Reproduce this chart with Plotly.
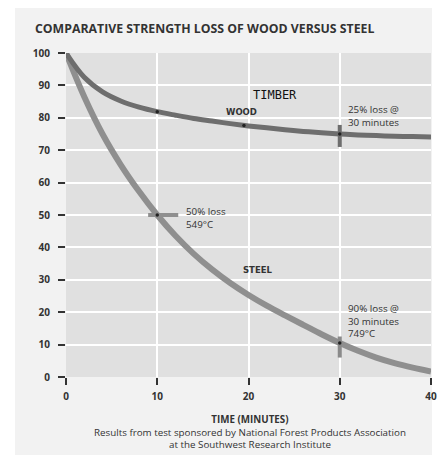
import plotly.graph_objects as go

time_min = [0, 2, 4, 6, 8, 10, 12, 14, 16, 18, 20, 22, 24, 26, 28, 30, 32, 34, 36, 38, 40]
wood_strength = [100, 92.5, 88, 85.2, 83.3, 81.9, 80.8, 79.8, 79, 78.2, 77.5, 76.9, 76.3, 75.8, 75.4, 75, 74.7, 74.5, 74.3, 74.2, 74.1]
steel_strength = [100, 86.5, 75, 65.5, 57.3, 50, 43.6, 38, 33.2, 29, 25.3, 22, 19, 16.1, 13.2, 10.5, 8.1, 6, 4.3, 2.9, 1.7]

wood_dots_t = [10, 19.5, 30]
wood_dots_v = [81.9, 77.6, 75]
steel_dots_t = [10, 30]
steel_dots_v = [50, 10.5]

x_ticks = [0, 10, 20, 30, 40]
y_ticks = [0, 10, 20, 30, 40, 50, 60, 70, 80, 90, 100]

fig = go.Figure()

fig.add_trace(go.Scatter(x=time_min, y=steel_strength, mode="lines", line=dict(color="#8f8f8f", width=6, shape="spline"), hoverinfo="skip"))
fig.add_trace(go.Scatter(x=time_min, y=wood_strength, mode="lines", line=dict(color="#6e6e6e", width=5, shape="spline"), hoverinfo="skip"))

# marker bars
fig.add_trace(go.Scatter(x=[9, 12.3], y=[50, 50], mode="lines", line=dict(color="#8f8f8f", width=4), hoverinfo="skip"))
fig.add_trace(go.Scatter(x=[30, 30], y=[71, 77.8], mode="lines", line=dict(color="#6e6e6e", width=4), hoverinfo="skip"))
fig.add_trace(go.Scatter(x=[30, 30], y=[6, 12.5], mode="lines", line=dict(color="#8a8a8a", width=4), hoverinfo="skip"))

fig.add_trace(go.Scatter(x=wood_dots_t, y=wood_dots_v, mode="markers", marker=dict(color="#222222", size=3.5), hoverinfo="skip"))
fig.add_trace(go.Scatter(x=steel_dots_t, y=steel_dots_v, mode="markers", marker=dict(color="#222222", size=3.5), hoverinfo="skip"))

fnt = "Open Sans"
txt = "#333333"

W, H = 440, 452
L, R, T, B = 58, 17, 45, 83
pw, ph = W - L - R, H - T - B

def px(fx):
    return (fx - L) / pw

def py(fy):
    return (H - B - fy) / ph

fig.update_layout(
    width=W, height=H,
    margin=dict(l=L, r=R, t=T, b=B),
    paper_bgcolor="#f2f2f2",
    plot_bgcolor="#e0e0e0",
    showlegend=False,
    font=dict(family=fnt, color=txt, size=9),
    shapes=[
        dict(type="rect", xref="paper", yref="paper", x0=px(0), x1=px(7), y0=py(H), y1=py(0), fillcolor="white", line=dict(width=0), layer="below"),
        dict(type="rect", xref="paper", yref="paper", x0=px(424), x1=px(W), y0=py(H), y1=py(0), fillcolor="white", line=dict(width=0), layer="below"),
        dict(type="rect", xref="paper", yref="paper", x0=px(0), x1=px(W), y0=py(H), y1=py(447), fillcolor="white", line=dict(width=0), layer="below"),
    ],
)

fig.update_xaxes(range=[0, 40], tickvals=x_ticks, ticktext=[str(v) for v in x_ticks],
                 showgrid=True, gridcolor="white", gridwidth=2, zeroline=False,
                 ticks="outside", ticklen=7, tickwidth=1.5, tickcolor="#333", ticklabelstandoff=3,
                 tickfont=dict(family=fnt, size=10, color=txt, weight="bold"), showline=False)
fig.update_yaxes(range=[0, 100], tickvals=y_ticks, ticktext=[str(v) for v in y_ticks],
                 showgrid=True, gridcolor="white", gridwidth=2, zeroline=False,
                 ticks="outside", ticklen=7, tickwidth=1.5, tickcolor="#333", ticklabelstandoff=6,
                 tickfont=dict(family=fnt, size=10, color=txt, weight="bold"), showline=False)

ann = []
def add(x, y, text, xref="x", yref="y", size=8, bold=False, xanchor="left", yanchor="middle", align="left", color=txt, fam=fnt):
    ann.append(dict(x=x, y=y, xref=xref, yref=yref, text=text, showarrow=False, xanchor=xanchor, yanchor=yanchor,
                    align=align, font=dict(size=size, color=color, family=fam, weight="bold" if bold else "normal")))

add(px(25), py(21), "COMPARATIVE STRENGTH LOSS OF WOOD VERSUS STEEL", xref="paper", yref="paper", size=12.3, bold=True)
add(17.3, 81.8, "WOOD", size=8.5, bold=True, fam="DejaVu Sans")
add(20.3, 87, "TIMBER", size=12, fam="DejaVu Sans Mono", color="#111")
add(30.7, 80.5, "25% loss @<br>30 minutes", size=9.8)
add(12.9, 49, "50% loss<br>549°C", size=9.8)
add(19.2, 33, "STEEL", size=8.5, bold=True, fam="DejaVu Sans")
add(30.7, 17.3, "90% loss @<br>30 minutes<br>749°C", size=9.8)
add(px(242), py(403), "<b>TIME (MINUTES)</b><br>Results from test sponsored by National Forest Products Association<br>at the Southwest Research Institute",
    xref="paper", yref="paper", size=9.8, xanchor="center", yanchor="top", align="center")
fig.update_layout(annotations=ann)

fig.write_html("out.html")
